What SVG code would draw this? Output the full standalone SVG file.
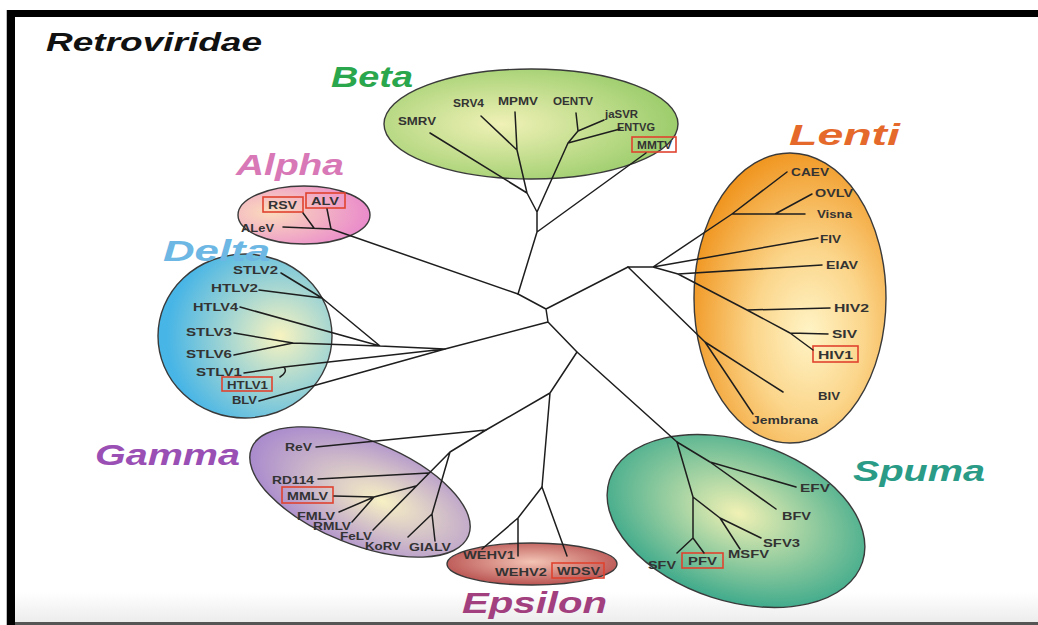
<svg xmlns="http://www.w3.org/2000/svg" width="1038" height="625" viewBox="0 0 1038 625">
<style>
.lf{font-family:"Liberation Sans",Arial,sans-serif;font-size:11px;font-weight:bold;fill:#333}
.gl{font-family:"Liberation Sans",Arial,sans-serif;font-size:30px;font-weight:bold;font-style:italic}
.el{stroke:#3a3a3a;stroke-width:1.4}
.bx{fill:none;stroke:#e0432f;stroke-width:1.6}
.tr{fill:none;stroke:#1e1e1e;stroke-width:1.5;stroke-linecap:round;stroke-linejoin:round}
</style>
<defs>
<radialGradient id="gBeta" cx="40%" cy="50%" r="60%"><stop offset="0" stop-color="#f0f1b6"/><stop offset="1" stop-color="#9ccd6c"/></radialGradient>
<radialGradient id="gAlpha" cx="25%" cy="45%" r="75%"><stop offset="0" stop-color="#fbdcbc"/><stop offset="1" stop-color="#ea8bcb"/></radialGradient>
<radialGradient id="gDelta" cx="70%" cy="50%" r="65%"><stop offset="0" stop-color="#f8f3c0"/><stop offset="1" stop-color="#47b5e6"/></radialGradient>
<radialGradient id="gGamma" cx="60%" cy="50%" r="60%"><stop offset="0" stop-color="#f7f0c4"/><stop offset="1" stop-color="#a98acd"/></radialGradient>
<radialGradient id="gEps" cx="50%" cy="45%" r="60%"><stop offset="0" stop-color="#f3c4b4"/><stop offset="1" stop-color="#b54a4a"/></radialGradient>
<radialGradient id="gSpuma" cx="50%" cy="45%" r="60%"><stop offset="0" stop-color="#f1f1b4"/><stop offset="1" stop-color="#2fa488"/></radialGradient>
<radialGradient id="gLenti" cx="60%" cy="62%" r="65%"><stop offset="0" stop-color="#fff4c6"/><stop offset="0.45" stop-color="#fbd58a"/><stop offset="1" stop-color="#f0951f"/></radialGradient>
<linearGradient id="gBot" x1="0" y1="0" x2="0" y2="1"><stop offset="0" stop-color="#ffffff"/><stop offset="1" stop-color="#ececec"/></linearGradient>
</defs>

<g id="frame">
<rect x="0" y="0" width="1038" height="625" fill="#ffffff"/>
<rect x="15" y="592" width="1023" height="31" fill="url(#gBot)"/>
<rect x="6" y="10" width="1" height="615" fill="#bdbdbd"/>
<rect x="7" y="10" width="1031" height="7" fill="#000"/>
<rect x="7" y="10" width="8" height="615" fill="#000"/>
<rect x="15" y="622" width="1023" height="3" fill="#555"/>
</g>

<g id="title">
<text x="46" y="51" font-family="Liberation Sans, Arial, sans-serif" font-size="25" font-weight="bold" font-style="italic" fill="#111" textLength="216" lengthAdjust="spacingAndGlyphs">Retroviridae</text>
</g>

<g id="beta">
<ellipse class="el" cx="531" cy="124" rx="147" ry="55" fill="url(#gBeta)"/>
<text class="gl" x="331" y="87" fill="#2aa64c" textLength="82" lengthAdjust="spacingAndGlyphs">Beta</text>
<text class="lf" x="398" y="125" textLength="38" lengthAdjust="spacingAndGlyphs">SMRV</text>
<text class="lf" x="453" y="107" textLength="31" lengthAdjust="spacingAndGlyphs">SRV4</text>
<text class="lf" x="498" y="105" textLength="40" lengthAdjust="spacingAndGlyphs">MPMV</text>
<text class="lf" x="553" y="105" textLength="40" lengthAdjust="spacingAndGlyphs">OENTV</text>
<text class="lf" x="605" y="118" textLength="33" lengthAdjust="spacingAndGlyphs">jaSVR</text>
<text class="lf" x="617" y="131" textLength="38" lengthAdjust="spacingAndGlyphs">ENTVG</text>
<rect class="bx" x="632" y="137" width="44" height="15"/>
<text class="lf" x="637" y="149" textLength="35" lengthAdjust="spacingAndGlyphs">MMTV</text>
</g>

<g id="alpha">
<ellipse class="el" cx="304" cy="215" rx="66" ry="29" fill="url(#gAlpha)"/>
<text class="gl" x="236" y="175" fill="#d878b6" textLength="108" lengthAdjust="spacingAndGlyphs">Alpha</text>
<rect class="bx" x="263" y="197" width="40" height="15"/>
<text class="lf" x="268" y="209" textLength="29" lengthAdjust="spacingAndGlyphs">RSV</text>
<rect class="bx" x="306" y="193" width="39" height="15"/>
<text class="lf" x="311" y="205" textLength="28" lengthAdjust="spacingAndGlyphs">ALV</text>
<text class="lf" x="241" y="232" textLength="33" lengthAdjust="spacingAndGlyphs">ALeV</text>
</g>

<g id="delta">
<ellipse class="el" cx="245" cy="336" rx="87" ry="82" fill="url(#gDelta)"/>
<text class="gl" x="163" y="261" fill="#6cb7e3" textLength="107" lengthAdjust="spacingAndGlyphs">Delta</text>
<text class="lf" x="233" y="274" textLength="45" lengthAdjust="spacingAndGlyphs">STLV2</text>
<text class="lf" x="211" y="292" textLength="47" lengthAdjust="spacingAndGlyphs">HTLV2</text>
<text class="lf" x="193" y="311" textLength="45" lengthAdjust="spacingAndGlyphs">HTLV4</text>
<text class="lf" x="186" y="336" textLength="46" lengthAdjust="spacingAndGlyphs">STLV3</text>
<text class="lf" x="186" y="358" textLength="46" lengthAdjust="spacingAndGlyphs">STLV6</text>
<text class="lf" x="196" y="376" textLength="46" lengthAdjust="spacingAndGlyphs">STLV1</text>
<rect class="bx" x="222" y="377" width="50" height="14"/>
<text class="lf" x="227" y="389" textLength="41" lengthAdjust="spacingAndGlyphs">HTLV1</text>
<text class="lf" x="232" y="404" textLength="25" lengthAdjust="spacingAndGlyphs">BLV</text>
</g>

<g id="gamma">
<ellipse class="el" cx="360" cy="492" rx="117" ry="52" transform="rotate(22 360 492)" fill="url(#gGamma)"/>
<text class="gl" x="95" y="465" fill="#9a4fb4" textLength="145" lengthAdjust="spacingAndGlyphs">Gamma</text>
<text class="lf" x="285" y="451" textLength="27" lengthAdjust="spacingAndGlyphs">ReV</text>
<text class="lf" x="272" y="484" textLength="42" lengthAdjust="spacingAndGlyphs">RD114</text>
<rect class="bx" x="282" y="487" width="51" height="16"/>
<text class="lf" x="287" y="500" textLength="41" lengthAdjust="spacingAndGlyphs">MMLV</text>
<text class="lf" x="297" y="520" textLength="38" lengthAdjust="spacingAndGlyphs">FMLV</text>
<text class="lf" x="313" y="530" textLength="38" lengthAdjust="spacingAndGlyphs">RMLV</text>
<text class="lf" x="340" y="540" textLength="32" lengthAdjust="spacingAndGlyphs">FeLV</text>
<text class="lf" x="365" y="550" textLength="36" lengthAdjust="spacingAndGlyphs">KoRV</text>
<text class="lf" x="409" y="551" textLength="42" lengthAdjust="spacingAndGlyphs">GIALV</text>
</g>

<g id="epsilon">
<ellipse class="el" cx="532" cy="564" rx="85" ry="21" fill="url(#gEps)"/>
<text class="gl" x="462" y="613" fill="#a23f7e" textLength="145" lengthAdjust="spacingAndGlyphs">Epsilon</text>
<text class="lf" x="463" y="559" textLength="52" lengthAdjust="spacingAndGlyphs">WEHV1</text>
<text class="lf" x="495" y="576" textLength="52" lengthAdjust="spacingAndGlyphs">WEHV2</text>
<rect class="bx" x="552" y="563" width="52" height="15"/>
<text class="lf" x="557" y="575" textLength="43" lengthAdjust="spacingAndGlyphs">WDSV</text>
</g>

<g id="spuma">
<ellipse class="el" cx="736" cy="521" rx="133" ry="80" transform="rotate(18 736 521)" fill="url(#gSpuma)"/>
<text class="gl" x="853" y="481" fill="#2a9b86" textLength="132" lengthAdjust="spacingAndGlyphs">Spuma</text>
<text class="lf" x="800" y="492" textLength="30" lengthAdjust="spacingAndGlyphs">EFV</text>
<text class="lf" x="782" y="520" textLength="29" lengthAdjust="spacingAndGlyphs">BFV</text>
<text class="lf" x="763" y="547" textLength="37" lengthAdjust="spacingAndGlyphs">SFV3</text>
<text class="lf" x="728" y="558" textLength="41" lengthAdjust="spacingAndGlyphs">MSFV</text>
<rect class="bx" x="682" y="553" width="41" height="15"/>
<text class="lf" x="688" y="565" textLength="29" lengthAdjust="spacingAndGlyphs">PFV</text>
<text class="lf" x="648" y="569" textLength="28" lengthAdjust="spacingAndGlyphs">SFV</text>
</g>

<g id="lenti">
<ellipse class="el" cx="790" cy="298" rx="96" ry="145" fill="url(#gLenti)"/>
<text class="gl" x="789" y="145" fill="#e5692b" textLength="111" lengthAdjust="spacingAndGlyphs">Lenti</text>
<text class="lf" x="791" y="176" textLength="38" lengthAdjust="spacingAndGlyphs">CAEV</text>
<text class="lf" x="815" y="197" textLength="38" lengthAdjust="spacingAndGlyphs">OVLV</text>
<text class="lf" x="817" y="218" textLength="35" lengthAdjust="spacingAndGlyphs">Visna</text>
<text class="lf" x="820" y="243" textLength="21" lengthAdjust="spacingAndGlyphs">FIV</text>
<text class="lf" x="826" y="269" textLength="32" lengthAdjust="spacingAndGlyphs">EIAV</text>
<text class="lf" x="834" y="312" textLength="35" lengthAdjust="spacingAndGlyphs">HIV2</text>
<text class="lf" x="832" y="338" textLength="25" lengthAdjust="spacingAndGlyphs">SIV</text>
<rect class="bx" x="813" y="346" width="45" height="16"/>
<text class="lf" x="818" y="359" textLength="35" lengthAdjust="spacingAndGlyphs">HIV1</text>
<text class="lf" x="818" y="400" textLength="22" lengthAdjust="spacingAndGlyphs">BIV</text>
<text class="lf" x="752" y="424" textLength="66" lengthAdjust="spacingAndGlyphs">Jembrana</text>
</g>

<g id="connectors" class="tr">
<path d="M518,294 L546,309 M331,229 L518,294 M546,309 L628,267 M546,309 L548,322 M548,322 L445,349 M548,322 L577,352 M577,352 L677,442 M577,352 L550,393 M550,393 L542,487 M550,393 L486,430"/>
<path d="M518,294 L537,232 L537,212 L527,193 L430,133 M527,193 L517,150 L481,116 M517,150 L515,112 M537,212 L568,143 L578,131 L576,113 M578,131 L604,120 M568,143 L620,129 M537,232 L646,153"/>
<path d="M283,227 L331,229 M303,213 L314,228 M327,209 L331,229"/>
<path d="M281,273 L322,298 L380,346 M259,290 L322,298 M240,307 L380,346 M234,333 L293,343 M234,355 L293,343 L380,346 L445,349 M244,373 L284,367 Q288,372 280,377 M284,367 L445,349 M259,401 L445,349"/>
<path d="M486,430 L316,447 M486,430 L450,452 L373,530 M429,473 L318,479 M416,486 L374,497 L334,496 M374,497 L339,512 M374,497 L352,522 M450,452 L432,514 L408,537 M432,514 L435,541"/>
<path d="M542,487 L567,556 M542,487 L518,518 L482,549 M518,518 L518,556"/>
<path d="M677,442 L710,462 L796,487 M710,462 L776,509 M677,442 L693,497 L720,518 L761,538 M720,518 L740,549 M693,497 L693,538 L677,553 M693,538 L704,553"/>
<path d="M628,267 L653,267 L732,214 L787,172 M732,214 L805,214 M775,214 L812,194 M653,267 L818,238 M653,267 L678,274 L822,265 M678,274 L747,310 L830,308 M747,310 L790,333 L828,334 M790,333 L813,350 M628,267 L705,342 L783,392 M705,342 L753,414"/>
</g>
</svg>
